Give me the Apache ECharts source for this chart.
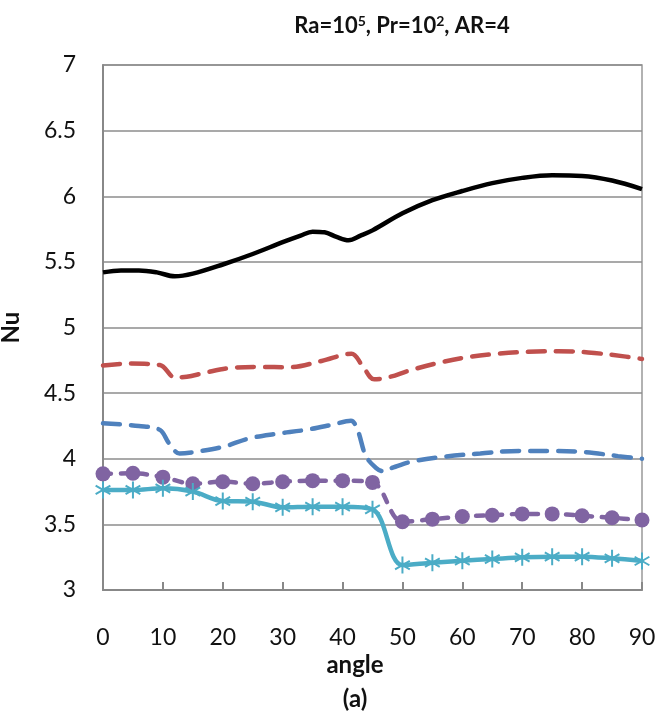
<!DOCTYPE html>
<html>
<head>
<meta charset="utf-8">
<script src="https://cdn.jsdelivr.net/npm/echarts@6/dist/echarts.min.js"></script>
<style>html,body{margin:0;padding:0;background:#fff;}#c{width:672px;height:711px;}</style>
</head>
<body>
<div id="c"></div>
<script>
// ---- data ----
const xTicks = [0, 10, 20, 30, 40, 50, 60, 70, 80, 90];
const yTicks = [3, 3.5, 4, 4.5, 5, 5.5, 6, 6.5, 7];

const blackAngle = [0, 3, 6, 9, 12, 15, 20, 25, 30, 33, 35, 37, 39, 41, 43, 45, 50, 55, 60, 65, 70, 75, 80, 85, 90];
const blackNu    = [5.42, 5.435, 5.435, 5.42, 5.39, 5.41, 5.48, 5.56, 5.65, 5.70, 5.73, 5.725, 5.69, 5.665, 5.70, 5.74, 5.87, 5.97, 6.04, 6.10, 6.14, 6.16, 6.155, 6.12, 6.055];

const redAngle = [0, 4, 9.5, 12, 14, 17, 21, 26, 31, 36.5, 41.5, 43.3, 45.3, 48, 51, 56, 61, 66, 71, 76, 81, 87, 90];
const redNu    = [4.71, 4.725, 4.714, 4.62, 4.625, 4.655, 4.69, 4.70, 4.697, 4.745, 4.80, 4.71, 4.605, 4.625, 4.67, 4.73, 4.775, 4.80, 4.815, 4.82, 4.81, 4.78, 4.76];

const blueAngle = [0, 6, 9.5, 11, 12.8, 15.6, 20, 24.4, 28.9, 33.9, 38.3, 41.4, 42.5, 43.9, 45.6, 46.8, 48.5, 51.7, 57, 63, 69.5, 75, 80.6, 86, 90];
const blueNu    = [4.27, 4.25, 4.22, 4.12, 4.04, 4.054, 4.09, 4.155, 4.19, 4.22, 4.26, 4.29, 4.22, 4.02, 3.93, 3.905, 3.935, 3.98, 4.016, 4.04, 4.06, 4.06, 4.05, 4.02, 4.0];

const markAngle = [0, 5, 10, 15, 20, 25, 30, 35, 40, 45, 50, 55, 60, 65, 70, 75, 80, 85, 90];
const purpleNu  = [3.885, 3.889, 3.86, 3.81, 3.825, 3.81, 3.825, 3.833, 3.833, 3.82, 3.52, 3.54, 3.56, 3.57, 3.58, 3.58, 3.566, 3.55, 3.533];
const cyanNu    = [3.762, 3.762, 3.775, 3.75, 3.678, 3.673, 3.63, 3.635, 3.635, 3.615, 3.19, 3.208, 3.223, 3.236, 3.249, 3.254, 3.254, 3.241, 3.221];

const pairs = (xs, ys) => xs.map((x, i) => [x, ys[i]]);

const FONT = 'Lato';
const chart = echarts.init(document.getElementById('c'), null, {renderer: 'canvas'});
const star = 'path://M0,-10L0,10M-8.66,-5L8.66,5M-8.66,5L8.66,-5';

chart.setOption({
  animation: false,
  backgroundColor: '#fff',
  title: [
    {
      text: 'Ra=10{sup|5}, Pr=10{sup|2}, AR=4',
      left: 397, top: 9, textAlign: 'center',
      textStyle: {
        fontFamily: FONT, fontWeight: 'bold', fontSize: 22, color: '#111',
        rich: { sup: { fontFamily: FONT, fontWeight: 'bold', fontSize: 14, color: '#111', padding: [0, 0, 10, 0] } }
      }
    },
    { text: 'angle', left: 350, top: 648, textAlign: 'center',
      textStyle: { fontFamily: FONT, fontWeight: 'bold', fontSize: 24, color: '#111' } },
    { text: '(a)', left: 350, top: 682, textAlign: 'center',
      textStyle: { fontFamily: FONT, fontWeight: 'bold', fontSize: 24, color: '#111' } }
  ],
  grid: { left: 103, right: 30, top: 65, bottom: 121, show: true, borderColor: '#999', borderWidth: 1.5,
          containLabel: false, outerBoundsMode: 'none' },
  xAxis: {
    type: 'value', min: xTicks[0], max: xTicks[xTicks.length - 1], interval: 10,
    axisLine: { show: true, lineStyle: { color: '#888', width: 2 } },
    axisTick: { show: true, inside: true, length: 8, lineStyle: { color: '#888', width: 2 } },
    axisLabel: { fontFamily: FONT, fontSize: 23, color: '#111', margin: 36 },
    splitLine: { show: false }
  },
  yAxis: {
    type: 'value', min: yTicks[0], max: yTicks[yTicks.length - 1], interval: 0.5,
    name: 'Nu', nameLocation: 'middle', nameGap: 80, nameRotate: 90,
    nameTextStyle: { fontFamily: FONT, fontWeight: 'bold', fontSize: 24, color: '#111' },
    axisLine: { show: true, lineStyle: { color: '#888', width: 2 } },
    axisTick: { show: false },
    axisLabel: { fontFamily: FONT, fontSize: 23, color: '#111', margin: 27 },
    splitLine: { show: true, lineStyle: { color: '#8c8c8c', width: 1.5 } }
  },
  series: [
    { type: 'line', data: pairs(blackAngle, blackNu), smooth: 0.35, showSymbol: false, symbol: 'none',
      lineStyle: { color: '#000', width: 4.5 } },
    { type: 'line', data: pairs(redAngle, redNu), smooth: 0.35, showSymbol: false, symbol: 'none',
      lineStyle: { color: '#c0504d', width: 4.5, type: [17, 11], cap: 'round' } },
    { type: 'line', data: pairs(blueAngle, blueNu), smooth: 0.35, showSymbol: false, symbol: 'none',
      lineStyle: { color: '#4f81bd', width: 4.5, type: [17, 11], cap: 'round' } },
    { type: 'line', data: pairs(markAngle, purpleNu), smooth: 0.35, symbol: 'circle', symbolSize: 15,
      lineStyle: { color: '#8064a2', width: 4.5, type: [8, 10], cap: 'round' },
      itemStyle: { color: '#8064a2' } },
    { type: 'line', data: pairs(markAngle, cyanNu), smooth: 0.35, symbol: star, symbolSize: 17, symbolKeepAspect: true,
      lineStyle: { color: '#4bacc6', width: 4.5 },
      itemStyle: { color: '#4bacc6', borderColor: '#4bacc6', borderWidth: 2 } }
  ]
});
</script>
</body>
</html>
